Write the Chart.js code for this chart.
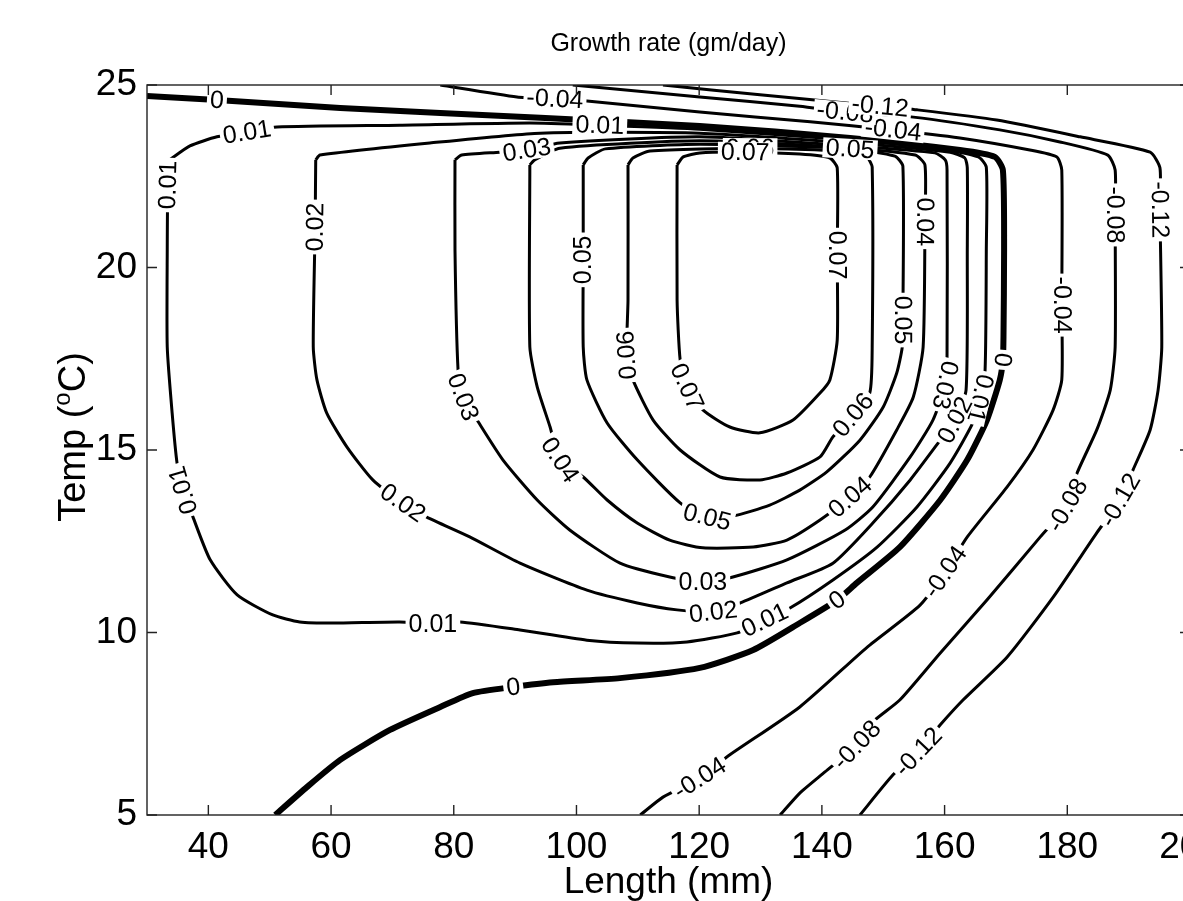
<!DOCTYPE html>
<html>
<head>
<meta charset="utf-8">
<script src="https://cdn.jsdelivr.net/npm/chart.js@4.4.1/dist/chart.umd.min.js"></script>
<style>
  body { margin: 0; overflow: hidden; background: #fff; }
</style>
</head>
<body>
<canvas id="chartContour" width="1260" height="901"></canvas>
<script>
// Growth rate contours (length mm, temp C)
const xTicks = [40, 60, 80, 100, 120, 140, 160, 180, 200];
const yTicks = [5, 10, 15, 20, 25];

const level0 = [[30.0,24.70],[41.4,24.59],[61.5,24.37],[94.1,24.10],[120.1,23.88],[144.6,23.55],[162.5,23.22],[168.2,23.03],[169.5,22.67],[169.7,20.48],[169.6,18.10],[169.5,17.47],[169.0,16.92],[166.9,15.82],[163.7,14.73],[159.3,13.63],[152.7,12.34],[145.7,11.36],[142.5,10.89],[136.4,10.26],[128.8,9.52],[120.1,9.03],[107.1,8.75],[96.2,8.64],[89.7,8.51],[83.1,8.34],[77.8,7.96],[69.6,7.33],[61.5,6.51],[56.1,5.77],[50.9,5.00]];
const level001 = [[33.7,22.95],[37.0,23.33],[41.4,23.58],[46.3,23.71],[51.2,23.85],[71.2,23.90],[92.4,23.96],[103.8,23.90],[120.1,23.79],[144.6,23.49],[159.3,23.25],[165.5,23.03],[166.8,22.75],[166.8,20.48],[166.6,17.19],[165.8,16.42],[164.6,15.74],[160.9,14.64],[155.5,13.44],[149.0,12.34],[141.8,11.44],[134.8,10.67],[130.7,10.34],[126.2,9.99],[118.0,9.74],[109.9,9.71],[101.7,9.79],[90.8,10.07],[81.0,10.29],[76.6,10.23],[71.2,10.29],[60.3,10.26],[54.9,10.29],[50.5,10.48],[44.7,11.03],[40.3,11.99],[37.5,13.16],[35.9,13.90],[34.9,14.64],[34.1,16.01],[33.3,17.82],[33.3,20.48],[33.4,22.26],[33.7,22.95]];
const level002 = [[57.5,22.95],[58.2,23.08],[76.1,23.41],[94.1,23.68],[120.1,23.68],[144.6,23.41],[160.9,23.16],[163.3,23.00],[163.7,22.73],[163.7,20.48],[163.5,16.64],[161.7,15.82],[159.3,15.27],[154.4,14.18],[148.3,13.00],[141.8,11.90],[134.3,11.36],[126.7,10.81],[122.3,10.56],[116.4,10.62],[109.9,10.81],[101.7,11.16],[90.8,11.90],[82.6,12.62],[75.6,13.16],[71.7,13.55],[66.8,14.18],[62.6,15.08],[59.3,16.01],[57.7,16.92],[57.1,17.82],[57.4,21.11],[57.5,22.95]];
const level003 = [[80.2,22.95],[81.3,23.08],[87.5,23.16],[91.9,23.22],[97.3,23.41],[120.1,23.58],[144.6,23.33],[158.4,23.14],[160.1,22.95],[160.4,22.67],[160.4,17.55],[160.1,16.78],[158.1,15.82],[154.4,14.81],[148.3,13.44],[143.8,12.81],[134.3,11.99],[125.5,11.52],[120.6,11.38],[115.2,11.52],[107.1,11.90],[98.9,12.81],[93.6,13.63],[88.0,14.73],[83.8,15.82],[81.5,16.45],[80.7,17.19],[80.2,20.48],[80.2,22.95]];
const level004 = [[92.4,22.81],[93.2,22.95],[97.3,23.27],[120.1,23.47],[144.6,23.27],[155.2,23.08],[156.8,22.81],[156.8,21.25],[156.5,17.82],[154.9,16.45],[152.2,15.55],[147.8,14.26],[144.6,13.71],[139.7,13.08],[134.3,12.53],[128.8,12.34],[120.6,12.32],[115.2,12.53],[109.9,13.00],[105.0,13.63],[101.1,14.26],[97.3,14.73],[95.7,15.63],[93.6,16.73],[92.4,17.82],[92.4,22.81]];
const level005 = [[101.1,22.81],[101.9,23.00],[104.7,23.25],[120.1,23.38],[144.6,23.25],[151.9,23.05],[153.2,22.78],[153.2,18.56],[153.1,17.82],[152.2,17.11],[150.0,16.18],[146.2,15.27],[140.8,14.40],[136.4,13.90],[131.5,13.49],[125.5,13.19],[121.3,13.16],[116.9,13.55],[109.9,14.73],[105.0,15.74],[101.7,16.92],[101.1,17.82],[101.1,20.21],[101.1,22.81]];
const level006 = [[108.4,22.81],[109.2,23.00],[112.0,23.19],[128.3,23.27],[146.2,23.16],[147.5,23.00],[148.2,22.75],[148.2,17.82],[147.8,16.56],[145.1,15.96],[141.8,15.36],[139.7,14.81],[134.3,14.37],[129.9,14.18],[123.4,14.26],[116.9,15.00],[112.5,15.82],[109.2,16.92],[108.2,17.60],[108.4,19.11],[108.4,22.81]];
const level007 = [[116.4,22.81],[117.4,23.03],[120.1,23.14],[127.5,23.16],[136.4,23.11],[141.3,23.00],[142.5,22.73],[142.5,20.34],[142.5,18.01],[141.3,16.92],[139.7,16.56],[135.3,15.82],[129.9,15.47],[125.0,15.63],[120.6,16.10],[118.0,16.73],[116.9,17.47],[116.4,19.11],[116.4,22.81]];
const levelM004 = [[77.8,25.00],[90.3,24.67],[96.5,24.62],[101.7,24.56],[120.1,24.26],[138.1,23.99],[151.6,23.77],[162.5,23.55],[173.9,23.22],[178.3,23.03],[179.1,22.67],[179.1,18.97],[179.1,16.92],[177.7,16.10],[174.4,15.00],[170.2,13.99],[163.7,12.62],[160.1,11.66],[156.0,10.75],[147.4,9.60],[136.4,7.96],[124.5,6.59],[120.1,6.01],[114.1,5.49],[110.4,5.00]];
const levelM008 = [[99.4,25.00],[120.1,24.67],[136.4,24.42],[143.8,24.26],[154.9,24.12],[169.0,23.77],[178.8,23.44],[186.6,23.08],[187.8,22.67],[187.8,21.44],[187.8,17.82],[187.0,16.64],[184.8,15.55],[181.6,14.37],[180.0,13.49],[175.6,12.62],[166.9,10.89],[159.3,9.44],[152.7,8.15],[148.3,7.55],[145.7,6.92],[140.5,6.18],[136.4,5.60],[133.2,5.00]];
const levelM012 = [[114.1,25.00],[129.9,24.73],[149.5,24.42],[155.5,24.32],[168.5,24.04],[182.1,23.58],[193.5,23.16],[195.1,22.73],[195.1,21.58],[195.4,17.82],[194.8,16.64],[193.5,15.55],[190.7,14.45],[188.6,13.63],[184.8,12.73],[177.7,10.97],[170.2,9.33],[163.0,8.15],[159.3,7.47],[155.7,6.73],[151.6,6.10],[146.2,5.00]];

// text and point index of each inline label
const contours = [
  { text: '0',     points: level0,    labels: [1, 11, 18, 24], width: 6 },
  { text: '0.01',  points: level001,  labels: [3, 7, 15, 22, 29, 37, 42], width: 3 },
  { text: '0.02',  points: level002,  labels: [11, 18, 25, 31], width: 3 },
  { text: '0.03',  points: level003,  labels: [3, 11, 18, 25], width: 3 },
  { text: '0.04',  points: level004,  labels: [7, 12, 21], width: 3 },
  { text: '0.05',  points: level005,  labels: [4, 7, 16, 22], width: 3 },
  { text: '0.06',  points: level006,  labels: [3, 9, 18], width: 3 },
  { text: '0.07',  points: level007,  labels: [3, 7, 15], width: 3 },
  { text: '-0.04', points: levelM004, labels: [2, 6, 11, 17, 22], width: 3 },
  { text: '-0.08', points: levelM008, labels: [3, 9, 14, 20], width: 3 },
  { text: '-0.12', points: levelM012, labels: [2, 8, 13, 19], width: 3 }
];

const FONT = '"Liberation Sans", Arial, sans-serif';

const contourDecor = {
    id: 'contourDecor',
    afterDatasetsDraw(chart) {
        const ctx = chart.ctx;
        const xs = chart.scales.x, ys = chart.scales.y;
        ctx.save();
        ctx.font = '25px ' + FONT;
        ctx.textAlign = 'center';
        ctx.textBaseline = 'middle';
        contours.forEach(function (c) {
            c.labels.forEach(function (i) {
                const p = c.points[i];
                const a = c.points[Math.max(i - 1, 0)];
                const b = c.points[Math.min(i + 1, c.points.length - 1)];
                const px = xs.getPixelForValue(p[0]), py = ys.getPixelForValue(p[1]);
                const dx = xs.getPixelForValue(b[0]) - xs.getPixelForValue(a[0]);
                const dy = ys.getPixelForValue(b[1]) - ys.getPixelForValue(a[1]);
                let ang = Math.atan2(dy, dx);
                if (ang > Math.PI / 2 + 0.3) ang -= Math.PI;
                if (ang < -Math.PI / 2 - 0.3) ang += Math.PI;
                const w = ctx.measureText(c.text).width;
                ctx.save();
                ctx.translate(px, py);
                ctx.rotate(ang);
                ctx.fillStyle = '#fff';
                ctx.fillRect(-w / 2 - 3, -10, w + 6, 20);
                ctx.fillStyle = '#000';
                ctx.fillText(c.text, 0, 1);
                ctx.restore();
            });
        });
        ctx.restore();
    },
    afterDraw(chart) {
        const ctx = chart.ctx;
        const area = chart.chartArea;
        const xs = chart.scales.x, ys = chart.scales.y;
        ctx.save();
        // frame and inward ticks
        ctx.strokeStyle = '#222';
        ctx.lineWidth = 1.4;
        ctx.strokeRect(area.left, area.top, area.right - area.left, area.bottom - area.top);
        ctx.beginPath();
        xTicks.forEach(function (v) {
            const x = xs.getPixelForValue(v);
            ctx.moveTo(x, area.bottom); ctx.lineTo(x, area.bottom - 10);
            ctx.moveTo(x, area.top); ctx.lineTo(x, area.top + 10);
        });
        yTicks.forEach(function (v) {
            const y = ys.getPixelForValue(v);
            ctx.moveTo(area.left, y); ctx.lineTo(area.left + 10, y);
            ctx.moveTo(area.right, y); ctx.lineTo(area.right - 10, y);
        });
        ctx.stroke();

        // titles
        const cx = (area.left + area.right) / 2;
        ctx.fillStyle = '#000';
        ctx.textAlign = 'center';
        ctx.textBaseline = 'alphabetic';
        ctx.font = '25px ' + FONT;
        ctx.fillText('Growth rate (gm/day)', cx, 51);
        ctx.font = '37px ' + FONT;
        ctx.fillText('Length (mm)', cx, 893);

        // y label with superscript o
        ctx.translate(85, 437);
        ctx.rotate(-Math.PI / 2);
        const big = '38px ' + FONT, small = '24px ' + FONT;
        ctx.font = big;
        const w1 = ctx.measureText('Temp (').width;
        const w3 = ctx.measureText('C)').width;
        ctx.font = small;
        const w2 = ctx.measureText('o').width;
        let x0 = -(w1 + w2 + w3) / 2;
        ctx.textAlign = 'left';
        ctx.font = big;
        ctx.fillText('Temp (', x0, 0);
        ctx.font = small;
        ctx.fillText('o', x0 + w1, -15);
        ctx.font = big;
        ctx.fillText('C)', x0 + w1 + w2, 0);
        ctx.restore();
    }
};

new Chart(document.getElementById('chartContour'), {
    type: 'scatter',
    data: {
        datasets: contours.map(function (c) {
            return {
                label: c.text,
                data: c.points.map(p => ({ x: p[0], y: p[1] })),
                showLine: true,
                borderColor: '#000',
                borderWidth: c.width,
                pointRadius: 0,
                tension: 0.2,
                fill: false
            };
        })
    },
    options: {
        responsive: false,
        animation: false,
        devicePixelRatio: 1,
        layout: { padding: { top: 85, right: 70, left: 0, bottom: 0 } },
        plugins: {
            legend: { display: false },
            tooltip: { enabled: false }
        },
        scales: {
            x: {
                type: 'linear',
                min: 30,
                max: 200,
                afterBuildTicks: s => { s.ticks = xTicks.map(v => ({ value: v })); },
                afterFit: s => { s.height = 86; },
                grid: { display: false, drawTicks: false },
                border: { display: false },
                ticks: { font: { family: FONT, size: 37 }, color: '#000', padding: 11, maxRotation: 0, autoSkip: false }
            },
            y: {
                type: 'linear',
                min: 5,
                max: 25,
                afterBuildTicks: s => { s.ticks = yTicks.map(v => ({ value: v })); },
                afterFit: s => { s.width = 147; },
                grid: { display: false, drawTicks: false },
                border: { display: false },
                ticks: { font: { family: FONT, size: 37 }, color: '#000', padding: 10, autoSkip: false }
            }
        }
    },
    plugins: [contourDecor]
});
</script>
</body>
</html>
